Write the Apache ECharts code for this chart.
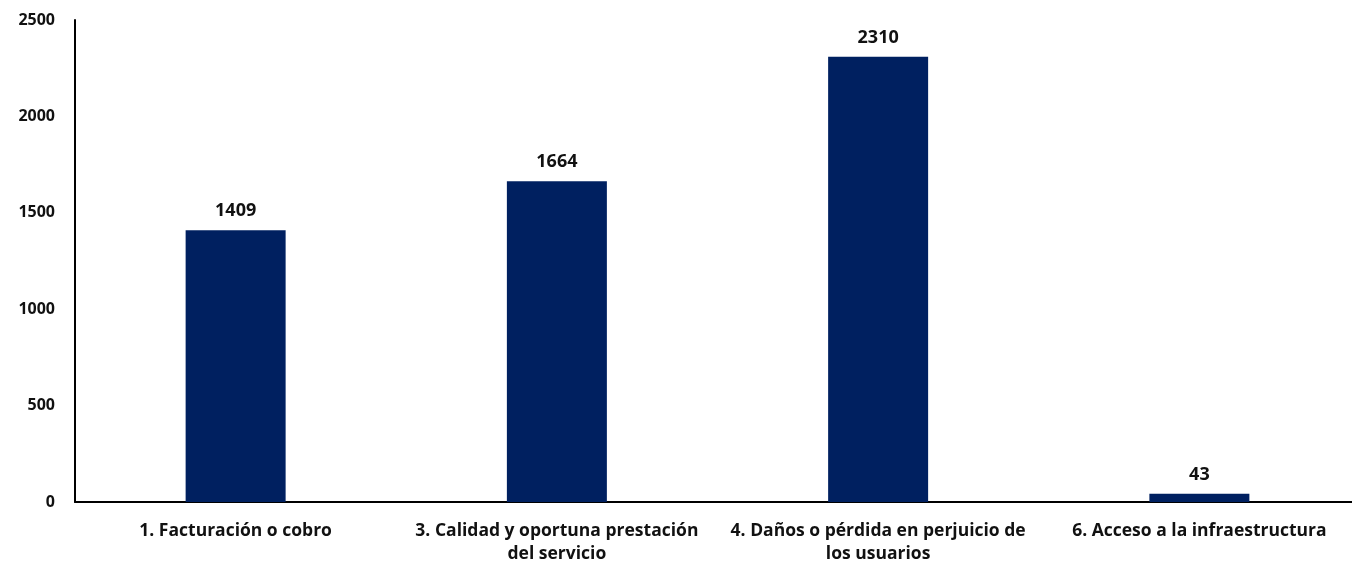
<!DOCTYPE html>
<html>
<head>
<meta charset="utf-8">
<script src="https://cdn.jsdelivr.net/npm/echarts@6/dist/echarts.min.js"></script>
<style>
html,body{margin:0;padding:0;background:#fff;}
#chart{width:1352px;height:563px;}
</style>
</head>
<body>
<div id="chart"></div>
<script>
const categories = [
  "1. Facturación o cobro",
  "3. Calidad y oportuna prestación\ndel servicio",
  "4. Daños o pérdida en perjuicio de\nlos usuarios",
  "6. Acceso a la infraestructura"
];
const values = [1409, 1664, 2310, 43];
const yTicks = [0, 500, 1000, 1500, 2000, 2500];

const chart = echarts.init(document.getElementById('chart'));
const fontFamily = '"Open Sans", "Noto Sans", sans-serif';
chart.setOption({
  animation: false,
  grid: { left: 75, top: 20, width: 1285, height: 482, containLabel: false, outerBoundsMode: 'none' },
  xAxis: {
    type: 'category',
    data: categories,
    axisLine: { lineStyle: { color: '#000', width: 2 } },
    axisTick: { show: false },
    axisLabel: {
      color: '#111', fontFamily: fontFamily, fontWeight: 'bold', fontSize: 17.5,
      margin: 18, lineHeight: 23, interval: 0
    }
  },
  yAxis: {
    type: 'value',
    min: yTicks[0], max: yTicks[yTicks.length - 1], interval: 500,
    axisLine: { show: true, lineStyle: { color: '#000', width: 2 } },
    axisTick: { show: false },
    splitLine: { show: false },
    axisLabel: {
      color: '#111', fontFamily: fontFamily, fontWeight: 'bold', fontSize: 16,
      margin: 20,
      formatter: function (v) { return String(v); }
    }
  },
  series: [{
    type: 'bar',
    data: values,
    barWidth: 100,
    itemStyle: { color: '#002060' },
    label: {
      show: true, position: 'top', distance: 10,
      color: '#111', fontFamily: fontFamily, fontWeight: 'bold', fontSize: 18
    }
  }]
});
</script>
</body>
</html>
